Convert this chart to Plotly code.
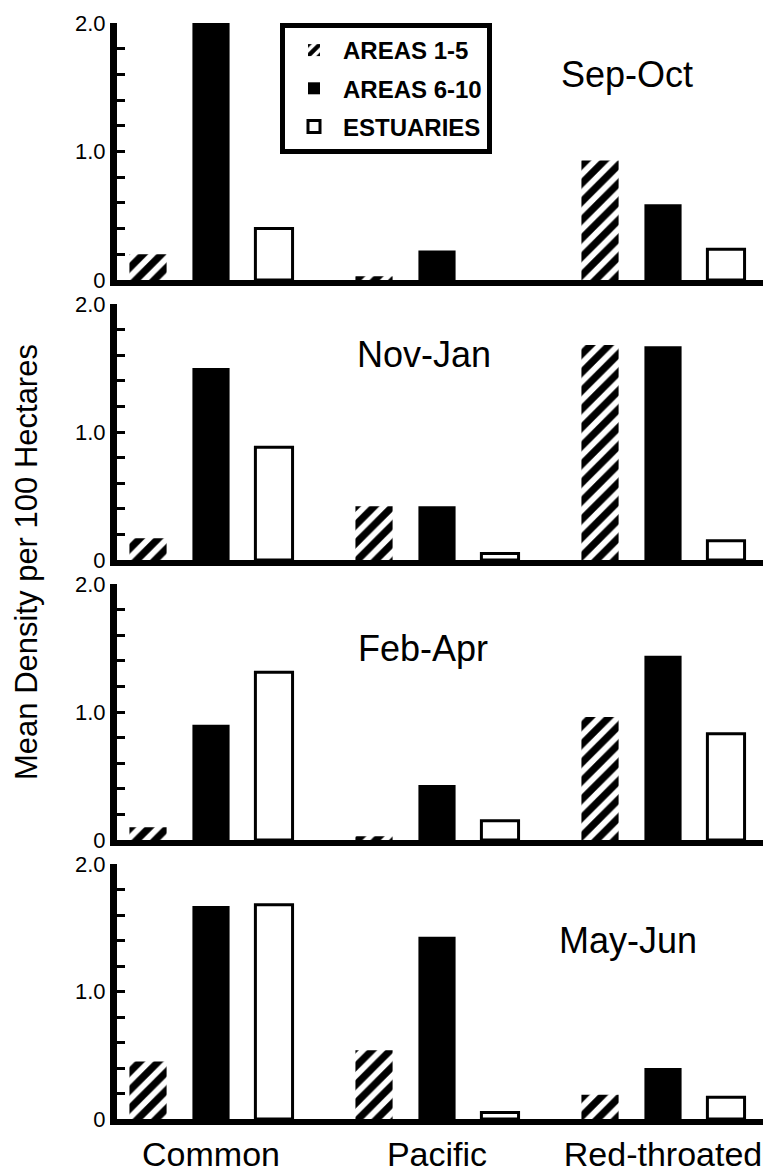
import plotly.graph_objects as go

species = ["Common", "Pacific", "Red-throated"]
seasons = ["Sep-Oct", "Nov-Jan", "Feb-Apr", "May-Jun"]
series_names = ["AREAS 1-5", "AREAS 6-10", "ESTUARIES"]
y_tick_vals = [0, 1, 2]
y_tick_text = ["0", "1.0", "2.0"]

sep_oct_areas_1_5 = [0.20, 0.03, 0.93]
sep_oct_areas_6_10 = [2.00, 0.23, 0.59]
sep_oct_estuaries = [0.40, None, 0.24]

nov_jan_areas_1_5 = [0.17, 0.42, 1.68]
nov_jan_areas_6_10 = [1.50, 0.42, 1.67]
nov_jan_estuaries = [0.88, 0.05, 0.15]

feb_apr_areas_1_5 = [0.10, 0.03, 0.96]
feb_apr_areas_6_10 = [0.90, 0.43, 1.44]
feb_apr_estuaries = [1.31, 0.15, 0.83]

may_jun_areas_1_5 = [0.45, 0.54, 0.19]
may_jun_areas_6_10 = [1.67, 1.43, 0.40]
may_jun_estuaries = [1.68, 0.05, 0.17]

panel_data = [
    (sep_oct_areas_1_5, sep_oct_areas_6_10, sep_oct_estuaries),
    (nov_jan_areas_1_5, nov_jan_areas_6_10, nov_jan_estuaries),
    (feb_apr_areas_1_5, feb_apr_areas_6_10, feb_apr_estuaries),
    (may_jun_areas_1_5, may_jun_areas_6_10, may_jun_estuaries),
]

FONT = "Liberation Sans, Arial, sans-serif"
W, H = 771, 1173
OFF = 8  # page body margin
ML, MR, MT, MB = 109, 0, 0, 62
PH = H - MT - MB
PW = W - ML - MR

def fy(py):
    return min(1.0, max(0.0, (H - MB - (py - OFF)) / PH))

def fx(px):
    return (px - OFF - ML) / PW

# panel pixel extents in screen coords (top of 2.0, baseline)
panels_px = [(23, 280), (304, 560), (584, 840), (864, 1119)]
label_pos = [(627, 75), (424, 354), (423, 648), (628, 940)]

fig = go.Figure()

styles = [
    dict(color="white", line=dict(width=0),
         pattern=dict(shape="/", fgcolor="black", bgcolor="white", size=13,
                      solidity=0.55, fgopacity=1)),
    dict(color="black", line=dict(width=0)),
    dict(color="white", line=dict(width=3, color="black")),
]

for i, vals in enumerate(panel_data):
    ax = "" if i == 0 else str(i + 1)
    for j, v in enumerate(vals):
        fig.add_trace(go.Bar(
            x=species, y=v, name=series_names[j],
            xaxis="x" + ax, yaxis="y" + ax,
            marker=styles[j],
            showlegend=(i == 0), legendgroup=f"g{j}",
        ))

x_start = -(211 - (OFF + ML)) / 226
x_end = x_start + PW / 226

layout = dict(
    width=W, height=H,
    margin=dict(l=ML, r=MR, t=MT, b=MB, autoexpand=False),
    paper_bgcolor="white", plot_bgcolor="white",
    barmode="group", bargap=0.164, bargroupgap=0.41,
    font=dict(family=FONT, color="black"),
    legend=dict(
        x=fx(280), y=fy(23), xanchor="left", yanchor="top",
        bordercolor="black", borderwidth=5, bgcolor="white",
        font=dict(size=24, family=FONT, weight="bold"),
        tracegroupgap=4, itemwidth=48,
    ),
    annotations=[],
)

for i in range(4):
    ax = "" if i == 0 else str(i + 1)
    top, base = panels_px[i]
    layout["xaxis" + ax] = dict(
        domain=[0, 1], anchor="y" + ax, type="category", automargin=False,
        range=[x_start, x_end], showgrid=False, zeroline=False,
        showline=True, linewidth=6, linecolor="black",
        ticks="", showticklabels=(i == 3),
        tickfont=dict(size=34, family=FONT),
        **({} if i == 0 else {"matches": "x"}),
    )
    layout["yaxis" + ax] = dict(
        domain=[fy(base), fy(top)], anchor="x" + ax, automargin=False,
        range=[0, 2.0], showgrid=False, zeroline=False,
        showline=True, linewidth=7, linecolor="black",
        tickvals=y_tick_vals, ticktext=y_tick_text,
        ticks="inside", ticklen=8, tickwidth=3, tickcolor="black",
        minor=dict(dtick=0.2, ticks="inside", ticklen=8, tickwidth=3, tickcolor="black"),
        tickfont=dict(size=22, family=FONT),
    )
    lx, ly = label_pos[i]
    layout["annotations"].append(dict(
        text=seasons[i], xref="paper", yref="paper", x=fx(lx), y=fy(ly),
        xanchor="center", yanchor="middle", showarrow=False,
        font=dict(size=36, family=FONT, color="black"),
    ))

layout["annotations"].append(dict(
    text="Mean Density per 100 Hectares", xref="paper", yref="paper",
    x=fx(26), y=fy(562), xanchor="center", yanchor="middle", textangle=-90,
    showarrow=False, font=dict(size=31, family=FONT, color="black"),
))

fig.update_layout(**layout)
fig.write_html("out.html")
